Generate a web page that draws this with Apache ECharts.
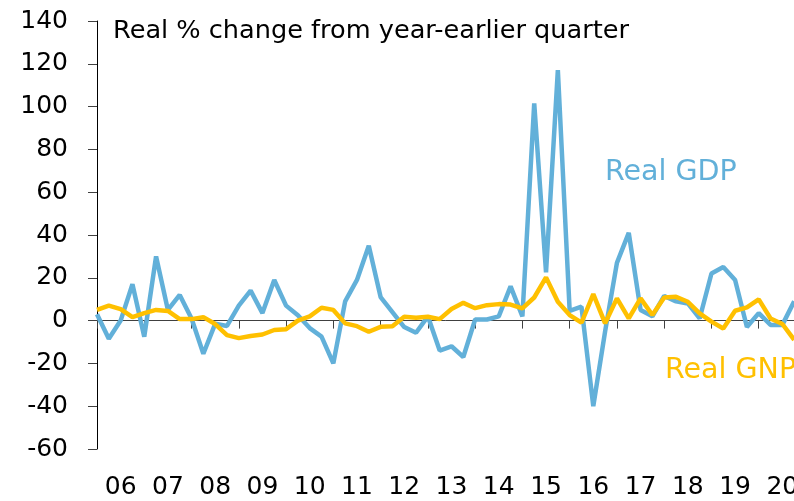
<!DOCTYPE html>
<html>
<head>
<meta charset="utf-8">
<script src="https://cdn.jsdelivr.net/npm/echarts@6/dist/echarts.min.js"></script>
<style>
  html, body { margin: 0; padding: 0; background: #fff; }
  #chart { width: 794px; height: 501px; }
</style>
</head>
<body>
<div id="chart"></div>
<script>
// quarterly, starting 2006 Q1
const years = ['06', '07', '08', '09', '10', '11', '12', '13', '14', '15', '16', '17', '18', '19', '20']
const realGdp = [3, -8.5, 0, 17, -7.5, 30, 5, 12, 1, -15.5, -1.5, -2.5, 7, 14, 3.5, 19, 7, 2.5, -3.5, -7.5,
  -20, 9, 19, 35, 11, 4, -3, -5.7, 2, -14, -12, -17, 0.5, 0.5, 2, 16, 2, 101.5, 22.5, 117,
  4.5, 6.5, -40, -5, 27, 41, 5, 2, 11.5, 9, 8, 1, 22, 25, 19, -3, 3.5, -2, -2, 9]
const realGnp = [5, 7, 5.4, 1.6, 3.5, 5, 4.5, 0.7, 0.7, 1.6, -1.6, -6.8, -8.2, -7.2, -6.5, -4.4, -4, 0, 2, 6,
  5, -1.3, -2.6, -5.2, -2.9, -2.6, 1.8, 1.3, 1.8, 0.7, 5.4, 8.3, 5.8, 7.2, 7.7, 7.5, 5.7, 10.8, 20.2, 8.8,
  2.6, -1, 12.4, -1.3, 10.4, 1, 10.4, 2.6, 10.8, 11.1, 8.8, 3.4, -0.5, -3.7, 4.6, 6.2, 9.9, 1, -1.6, -9]

const FONT = '"DejaVu Sans", sans-serif'
const yearTicks = years.map((y, i) => i * 4)
const yearLabels = years.map((y, i) => i * 4 + 2)

const chart = echarts.init(document.getElementById('chart'))
chart.setOption({
  animation: false,
  grid: { left: 97, top: 21, width: 709, height: 428, containLabel: false, outerBoundsMode: 'none' },
  xAxis: [
    {
      type: 'value',
      min: 0,
      max: 60,
      axisLine: { onZero: true, lineStyle: { color: '#404040', width: 1 } },
      axisTick: { show: true, customValues: yearTicks, length: 8, lineStyle: { color: '#404040' } },
      axisLabel: { show: false },
      splitLine: { show: false }
    },
    {
      type: 'value',
      min: 0,
      max: 60,
      position: 'bottom',
      axisLine: { show: false, onZero: false },
      axisTick: { show: false },
      splitLine: { show: false },
      axisLabel: {
        customValues: yearLabels,
        margin: 26,
        color: '#000',
        fontFamily: FONT,
        fontSize: 25,
        formatter: (v) => years[(v - 2) / 4]
      }
    }
  ],
  yAxis: {
    type: 'value',
    min: -60,
    max: 140,
    interval: 20,
    axisLine: { show: true, onZero: false, lineStyle: { color: '#000', width: 1 } },
    axisTick: { show: true, length: 9, lineStyle: { color: '#404040' } },
    splitLine: { show: false },
    axisLabel: { margin: 29, color: '#000', fontFamily: FONT, fontSize: 25 }
  },
  graphic: [
    {
      type: 'text',
      x: 113,
      y: 31,
      style: { text: 'Real % change from year-earlier quarter', fill: '#000', font: '25.6px ' + FONT, verticalAlign: 'middle' }
    },
    {
      type: 'text',
      x: 605,
      y: 173,
      style: { text: 'Real GDP', fill: '#62b0d9', font: '28.5px ' + FONT, verticalAlign: 'middle' }
    },
    {
      type: 'text',
      x: 665,
      y: 371,
      style: { text: 'Real GNP', fill: '#ffc000', font: '28.5px ' + FONT, verticalAlign: 'middle' }
    }
  ],
  series: [
    {
      name: 'Real GDP',
      type: 'line',
      xAxisIndex: 0,
      data: realGdp.map((v, i) => [i, v]),
      showSymbol: false,
      lineStyle: { color: '#62b0d9', width: 4.5 }
    },
    {
      name: 'Real GNP',
      type: 'line',
      xAxisIndex: 0,
      data: realGnp.map((v, i) => [i, v]),
      showSymbol: false,
      lineStyle: { color: '#ffc000', width: 4.5 }
    }
  ]
})
</script>
</body>
</html>
